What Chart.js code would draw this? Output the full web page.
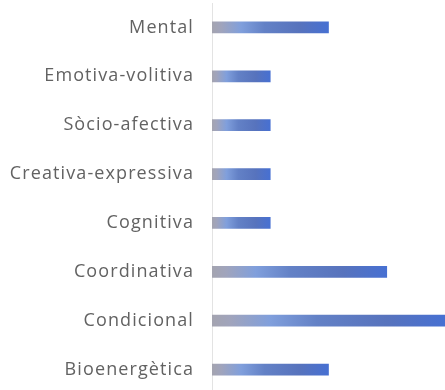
<!DOCTYPE html>
<html>
<head>
<meta charset="utf-8">
<script src="https://cdn.jsdelivr.net/npm/chart.js@4/dist/chart.umd.min.js"></script>
<style>
  html, body { margin: 0; padding: 0; background: #ffffff; overflow: hidden; }
  canvas { display: block; }
</style>
</head>
<body>
<canvas id="chart" width="445" height="394"></canvas>
<script>
// Dimensions of physical-education content, counted per dimension
const categories = [
  "Mental",
  "Emotiva-volitiva",
  "Sòcio-afectiva",
  "Creativa-expressiva",
  "Cognitiva",
  "Coordinativa",
  "Condicional",
  "Bioenergètica"
];
const counts = [2, 1, 1, 1, 1, 3, 4, 2];
const axisMax = 4;

// Left-to-right gradient along each bar: grey fading into blue
function barGradient(ctx) {
  const chart = ctx.chart;
  const area = chart.chartArea;
  if (!area) return "#4a70c8";
  const x = chart.scales.x;
  const x0 = x.getPixelForValue(0);
  const x1 = x.getPixelForValue(ctx.raw);
  const g = chart.ctx.createLinearGradient(x0, 0, x1, 0);
  g.addColorStop(0.0, "#a4a4b0");
  g.addColorStop(0.08, "#a0a4bc");
  g.addColorStop(0.25, "#809fdc");
  g.addColorStop(0.45, "#6381c6");
  g.addColorStop(0.75, "#5773bd");
  g.addColorStop(1.0, "#4770d2");
  return g;
}

// Slightly open letter spacing for the category labels
const spacedText = {
  id: "spacedText",
  beforeDraw(chart) { chart.ctx.letterSpacing = "1.1px"; }
};

new Chart(document.getElementById("chart"), {
  type: "bar",
  data: {
    labels: categories,
    datasets: [{
      data: counts,
      backgroundColor: barGradient,
      borderWidth: 0,
      barThickness: 11
    }]
  },
  options: {
    indexAxis: "y",
    responsive: false,
    animation: false,
    devicePixelRatio: 1,
    layout: { padding: { top: 3, right: 0, bottom: 0, left: 0 } },
    plugins: {
      legend: { display: false },
      tooltip: { enabled: false }
    },
    scales: {
      x: {
        display: false,
        min: 0,
        max: axisMax
      },
      y: {
        grid: { display: false, drawTicks: false },
        border: { display: true, color: "#e3e3e3", width: 1 },
        ticks: {
          color: "#626262",
          padding: 18,
          font: { family: "'Open Sans', sans-serif", size: 18 }
        },
        afterFit: (scale) => {
          scale.width = 212;
          scale.paddingTop = 0;
          scale.paddingBottom = 0;
        }
      }
    }
  },
  plugins: [spacedText]
});
</script>
</body>
</html>
